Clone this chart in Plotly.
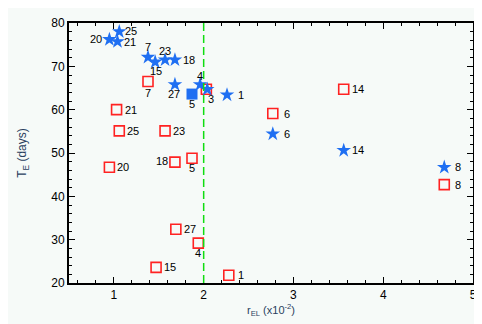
import plotly.graph_objects as go

# blue stars (label, r, T)
star_ids = ["25", "20", "21", "7", "15", "23", "18", "27", "4", "3", "1", "6", "14", "8"]
star_r = [1.06, 0.95, 1.04, 1.38, 1.46, 1.57, 1.68, 1.68, 1.96, 2.04, 2.26, 2.77, 3.56, 4.68]
star_t = [78.0, 76.2, 75.7, 72.1, 71.0, 71.5, 71.5, 65.8, 65.8, 64.7, 63.4, 54.4, 50.6, 46.7]

# filled square (object 5)
big_ids = ["5"]
big_r = [1.87]
big_t = [63.6]

# red open squares
sq_ids = ["7", "21", "25", "23", "20", "18", "5", "27", "4", "15", "1", "3", "6", "14", "8"]
sq_r = [1.38, 1.03, 1.06, 1.57, 0.95, 1.68, 1.87, 1.69, 1.94, 1.47, 2.28, 2.03, 2.77, 3.56, 4.68]
sq_t = [66.5, 60.0, 55.1, 55.1, 46.7, 47.9, 48.8, 32.4, 29.2, 23.6, 21.8, 64.7, 59.1, 64.7, 42.7]

# label offsets in pixels (dx right, dy up); default is to the right
RIGHT = (14, 0)
star_off = {"25": (12, 1), "20": (-13, 0), "21": (13, 0), "7": (0, 10), "15": (1, -9),
            "23": (0, 9), "27": (-1, -9), "4": (0, 9), "3": (4, -10)}
big_off = {"5": (0, -10)}
sq_off = {"7": (0, -11), "18": (-13, 1), "5": (0, -10), "4": (0, -10), "1": (12, 0)}
sq_skip = ["3"]  # shares its label with the star

BLUE = "#1f6ff2"
RED = "#ff2222"
FONT = "Liberation Sans, Arial"

fig = go.Figure()
fig.add_trace(go.Scatter(x=sq_r, y=sq_t, mode="markers", showlegend=False,
                         marker=dict(symbol="square-open", size=10, color=RED, line=dict(width=1.6))))
fig.add_trace(go.Scatter(x=star_r, y=star_t, mode="markers", showlegend=False,
                         marker=dict(symbol="star", size=11, color=BLUE, line=dict(width=0))))
fig.add_trace(go.Scatter(x=big_r, y=big_t, mode="markers", showlegend=False,
                         marker=dict(symbol="square", size=11, color=BLUE, line=dict(width=0))))


def label(ids, xs, ys, offs, skip=()):
    for i, x, y in zip(ids, xs, ys):
        if i in skip:
            continue
        dx, dy = offs.get(i, RIGHT)
        fig.add_annotation(x=x, y=y, text=i, showarrow=False, xshift=dx, yshift=dy,
                           font=dict(family=FONT, size=11, color="black"))


label(sq_ids, sq_r, sq_t, sq_off, sq_skip)
label(star_ids, star_r, star_t, star_off)
label(big_ids, big_r, big_t, big_off)

fig.add_vline(x=2, line=dict(color="#10dd10", width=1.5, dash="8px,4px"))

bg = "#f6faf8"
axcommon = dict(showgrid=False, zeroline=False, showline=True, linecolor="black", linewidth=2,
                mirror="allticks", ticks="inside", ticklen=6, tickwidth=1.2, tickcolor="black",
                tickfont=dict(family=FONT, size=12, color="black"))
fig.update_xaxes(range=[0.5, 5], dtick=1, tick0=0,
                 minor=dict(dtick=0.2, ticks="inside", ticklen=3, tickcolor="black"),
                 title=dict(text="r<sub>EL</sub> (x10<sup>-2</sup>)", standoff=4,
                            font=dict(family=FONT, size=11)),
                 **axcommon)
fig.update_yaxes(range=[20, 80], dtick=10, tick0=0,
                 minor=dict(dtick=2, ticks="inside", ticklen=3, tickcolor="black"),
                 title=dict(text="T<sub>E</sub> (days)", standoff=22,
                            font=dict(family=FONT, size=12)),
                 **axcommon)
fig.update_layout(width=482, height=324, margin=dict(l=61, r=17, t=8, b=49),
                  plot_bgcolor=bg, paper_bgcolor=bg)

fig.write_html("out.html")
